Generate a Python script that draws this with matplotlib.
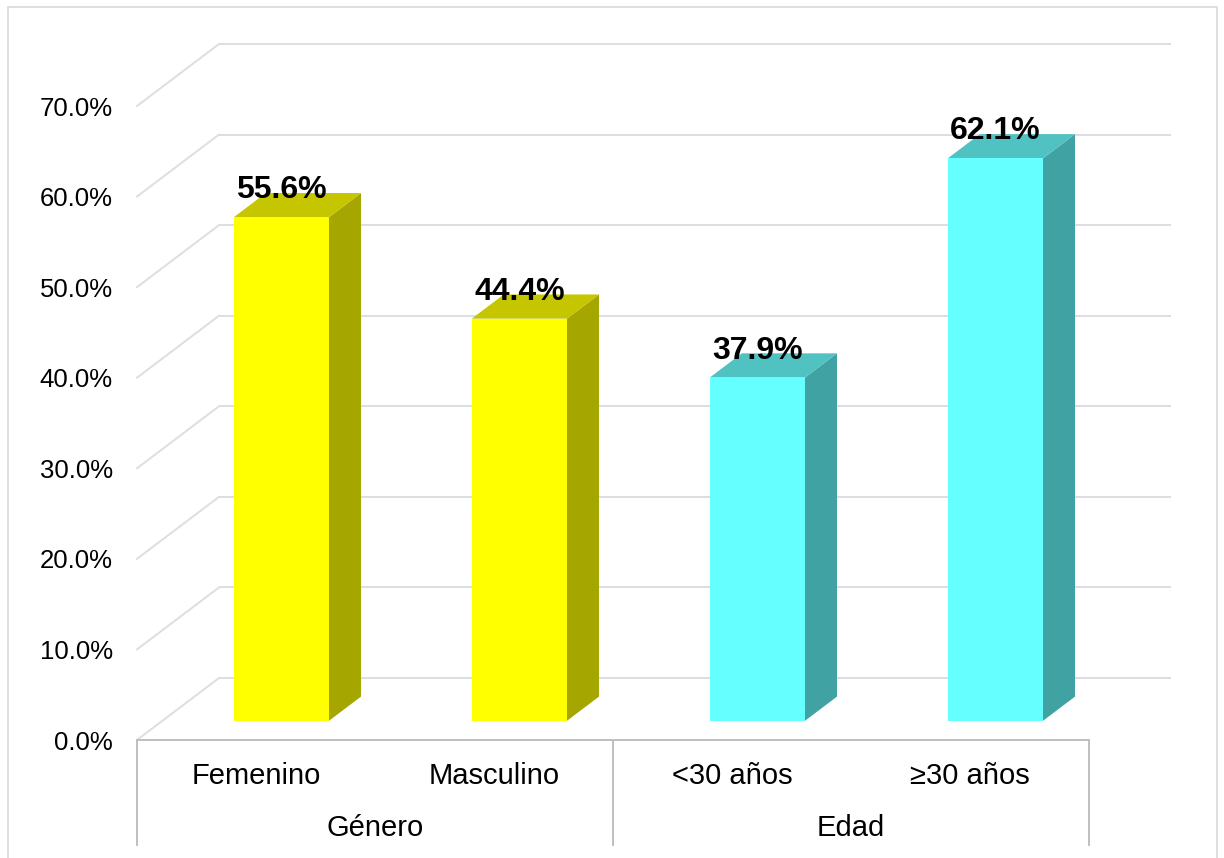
import matplotlib
matplotlib.use("Agg")
import matplotlib.pyplot as plt
from matplotlib.patches import Polygon, Rectangle

plt.rcParams['font.family'] = ['Liberation Sans', 'DejaVu Sans']

# ---- data ----
categories = ["Femenino", "Masculino", "<30 años", "≥30 años"]
values = [55.6, 44.4, 37.9, 62.1]
groups = ["Género", "Edad"]
group_spans = [(0, 2), (2, 4)]
yticks = [0, 10, 20, 30, 40, 50, 60, 70]
ytick_labels = [f"{v:.1f}%" for v in yticks]

# ---- styling ----
face_front = ["#FFFF00", "#FFFF00", "#66FFFF", "#66FFFF"]
face_top = ["#C6C600", "#C6C600", "#50C2C2", "#50C2C2"]
face_side = ["#A6A600", "#A6A600", "#40A2A2", "#40A2A2"]
grid_color = "#DCDEE3"
axis_color = "#BFBFBF"

W, H = 1224, 858
fig = plt.figure(figsize=(W / 100, H / 100), dpi=100)
fig.patch.set_facecolor("white")

# plot area in pixels (front plane origin at left=137, bottom=740 from top)
px_left, px_right, px_front, px_top = 137, 1171, 740, 43
px_per_cat = (1089 - 137) / 4
px_per_pct = 634 / 70
ax = fig.add_axes([px_left / W, (H - px_front) / H,
                   (px_right - px_left) / W, (px_front - px_top) / H])
ax.set_xlim(0, (px_right - px_left) / px_per_cat)
ax.set_ylim(0, (px_front - px_top) / px_per_pct)
for s in ax.spines.values():
    s.set_visible(False)
ax.set_facecolor("none")

# depth projection (oblique) in data units
DX = 82 / px_per_cat
DY = 62 / px_per_pct

def proj(x, v, d):
    return (x + d * DX, v + d * DY)

n = len(categories)

# back wall and side wall gridlines
for v in yticks:
    bx0, by = proj(0, v, 1)
    bx1, _ = proj(n, v, 1)
    ax.plot([bx0, bx1], [by, by], color=grid_color, lw=1.4, zorder=1,
            solid_capstyle="butt", clip_on=False)
    ax.plot([0, bx0], [v, by], color=grid_color, lw=1.4, zorder=1,
            clip_on=False)

# front floor edge and category box
ax.plot([0, n], [0, 0], color=axis_color, lw=1.4, zorder=2, clip_on=False)
sep_bottom = -(845 - px_front) / px_per_pct
for xs in [0, 2, 4]:
    ax.plot([xs, xs], [0, sep_bottom], color=axis_color, lw=1.4, zorder=2,
            clip_on=False)

# y tick labels
ax.set_xticks([])
ax.set_yticks(yticks)
ax.set_yticklabels(ytick_labels, fontsize=18.5)
ax.tick_params(axis="y", length=0, pad=(137 - 113) * 0.72)

# category and group labels
cat_base = -(784 - px_front) / px_per_pct
grp_base = -(836 - px_front) / px_per_pct
for i, c in enumerate(categories):
    ax.text(i + 0.5, cat_base, c, ha="center", va="baseline", fontsize=21,
            clip_on=False)
for g, (a, b) in zip(groups, group_spans):
    ax.text((a + b) / 2, grp_base, g, ha="center", va="baseline",
            fontsize=21, clip_on=False)

# 3D bars
d0, d1 = 0.31, 0.70
half = 0.2
for i, v in enumerate(values):
    x0, x1 = i + 0.5 - half, i + 0.5 + half
    front = [proj(x0, 0, d0), proj(x1, 0, d0), proj(x1, v, d0), proj(x0, v, d0)]
    side = [proj(x1, 0, d0), proj(x1, 0, d1), proj(x1, v, d1), proj(x1, v, d0)]
    top = [proj(x0, v, d0), proj(x1, v, d0), proj(x1, v, d1), proj(x0, v, d1)]
    for pts, col in [(side, face_side[i]), (top, face_top[i]),
                     (front, face_front[i])]:
        ax.add_patch(Polygon(pts, closed=True, facecolor=col,
                             edgecolor="none", zorder=3, clip_on=False))
    lx, ly = proj(i + 0.5, v, d0)
    ax.annotate(f"{v:.1f}%", (lx, ly), xytext=(0, 19 * 0.72),
                textcoords="offset points", ha="center", va="baseline",
                fontsize=23, fontweight="bold", zorder=5,
                annotation_clip=False)

# chart border
fig.add_artist(Rectangle((8 / W, -2 / H), (1217 - 8) / W, (H - 7 + 2) / H,
                         transform=fig.transFigure, fill=False,
                         edgecolor="#D9D9D9", lw=1.2))

fig.savefig("out.png", dpi=100)
